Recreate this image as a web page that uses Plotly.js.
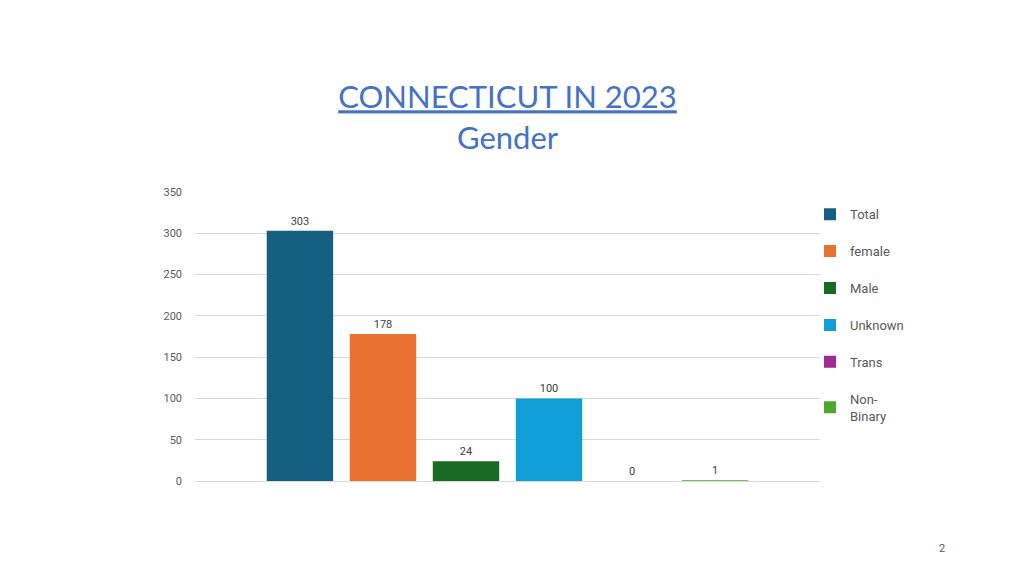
<!DOCTYPE html>
<html>
<head>
<meta charset="utf-8">
<script src="https://cdn.plot.ly/plotly-3.0.1.min.js"></script>
<style>html,body{margin:0;padding:0;background:#fff;}#chart{width:1024px;height:576px;}</style>
</head>
<body>
<div id="chart"></div>
<script>
const category = ['Gender'];
const seriesNames = ['Total', 'female', 'Male', 'Unknown', 'Trans', 'Non-<br>Binary'];
const seriesValues = [303, 178, 24, 100, 0, 1];
const seriesColors = ['#156082', '#E97132', '#196B24', '#0F9ED5', '#A02B93', '#4EA72E'];
const yTicks = [0, 50, 100, 150, 200, 250, 300, 350];

const traces = seriesNames.map((name, i) => ({
  type: 'bar',
  name: name,
  x: category,
  y: [seriesValues[i]],
  text: [String(seriesValues[i])],
  textposition: 'outside',
  cliponaxis: false,
  textfont: {family: 'Roboto, Arial, sans-serif', size: 11, color: '#404040'},
  marker: {color: seriesColors[i]},
  legendgroup: 'g' + i,
  hoverinfo: 'none'
}));

const layout = {
  width: 1024, height: 576,
  paper_bgcolor: '#ffffff', plot_bgcolor: '#ffffff',
  margin: {l: 195, r: 204, t: 192, b: 95},
  barmode: 'group',
  bargap: 0.203,
  bargroupgap: 0.2,
  showlegend: true,
  title: {
    text: '<u>CONNECTICUT IN 2023</u><br>Gender',
    font: {family: 'Lato, Calibri, sans-serif', size: 31, color: '#4472C4'},
    x: 0.5, xref: 'paper', xanchor: 'center',
    y: 0.812, yref: 'container', yanchor: 'middle'
  },
  xaxis: {
    showticklabels: false, showgrid: false, showline: false, zeroline: false,
    ticks: ''
  },
  yaxis: {
    range: [0, 350],
    tickvals: yTicks,
    ticktext: yTicks.map(String),
    showgrid: true, gridcolor: '#d9d9d9', gridwidth: 1,
    zeroline: true, zerolinecolor: '#d9d9d9', zerolinewidth: 1,
    showline: false, ticks: '',
    ticklabelstandoff: 12,
    tickfont: {family: 'Roboto, Arial, sans-serif', size: 11, color: '#595959'}
  },
  legend: {
    x: 0.984, xanchor: 'left', y: 0.975, yanchor: 'top',
    font: {family: 'Roboto, Arial, sans-serif', size: 13, color: '#595959'},
    tracegroupgap: 17,
    itemwidth: 30,
    bgcolor: 'rgba(0,0,0,0)'
  },
  annotations: [{
    text: '2', xref: 'paper', yref: 'paper', x: 1.195, y: -0.235,
    xanchor: 'center', yanchor: 'middle', showarrow: false,
    font: {family: 'Roboto, Arial, sans-serif', size: 11, color: '#595959'}
  }]
};

Plotly.newPlot('chart', traces, layout, {displayModeBar: false, staticPlot: true});
</script>
</body>
</html>
